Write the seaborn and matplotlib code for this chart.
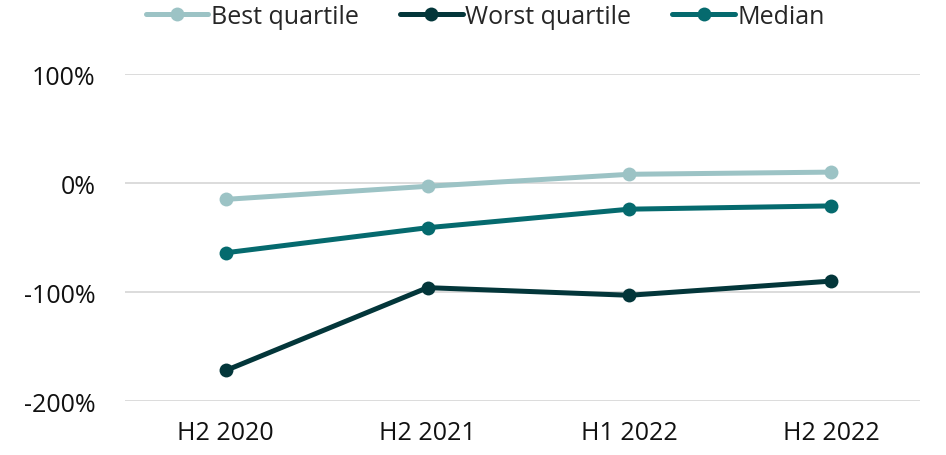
import matplotlib
matplotlib.use("Agg")
import matplotlib.pyplot as plt
import seaborn as sns
import pandas as pd
from matplotlib.ticker import FuncFormatter

# Data (values in %)
periods = ["H2 2020", "H2 2021", "H1 2022", "H2 2022"]
best_quartile = [-15, -3, 8, 10]
worst_quartile = [-172, -96, -103, -90]
median = [-64, -41, -24, -21]

series_names = ["Best quartile", "Worst quartile", "Median"]
colors = ["#9cc3c5", "#03363a", "#056a6e"]

df = pd.DataFrame({
    "Period": periods * 3,
    "Value": best_quartile + worst_quartile + median,
    "Series": [s for s in series_names for _ in periods],
})

sns.set_style("white")
plt.rcParams["font.family"] = ["Open Sans", "DejaVu Sans"]

fig = plt.figure(figsize=(9.46, 4.56), dpi=100)
ax = fig.add_axes([0.132, 0.1184, 0.8405, 0.7171])

sns.lineplot(
    data=df, x="Period", y="Value", hue="Series",
    hue_order=series_names, palette=colors,
    marker="o", markersize=10, markeredgewidth=0,
    linewidth=3.6, sort=False, ax=ax,
)

ax.set_ylim(-200, 100)
ax.set_yticks([-200, -100, 0, 100])
ax.yaxis.set_major_formatter(FuncFormatter(lambda v, p: f"{int(v)}%"))
ax.set_xlim(-0.5, 3.44)
ax.grid(axis="y", color="#d9d9d9", linewidth=1.3)
ax.grid(axis="x", visible=False)
ax.set_axisbelow(True)
for s in ax.spines.values():
    s.set_visible(False)
ax.tick_params(axis="both", length=0, labelsize=18, colors="#111111")
ax.tick_params(axis="y", pad=21)
ax.tick_params(axis="x", pad=14)
ax.set_xlabel("")
ax.set_ylabel("")

handles, labels = ax.get_legend_handles_labels()
ax.legend(
    handles, labels, loc="center", bbox_to_anchor=(0.513, 0.962),
    bbox_transform=fig.transFigure, ncol=3, frameon=False,
    fontsize=18, handlelength=2.5, handletextpad=0.1, columnspacing=1.65,
    borderaxespad=0, borderpad=0,
)

fig.savefig("out.png", dpi=100)
